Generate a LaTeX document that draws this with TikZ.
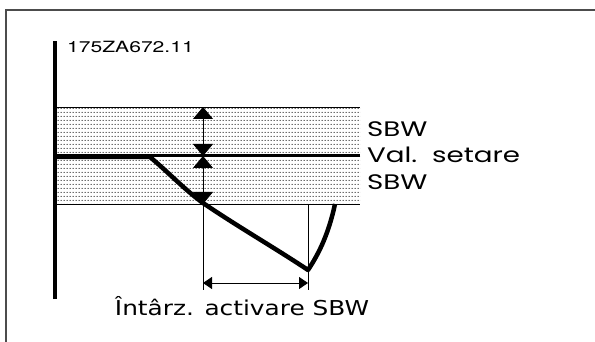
\documentclass[tikz,border=0pt]{standalone}
\usepackage{fontspec}
\setmainfont[FakeStretch=1.21]{DejaVu Sans}
\newfontfamily\geo[FakeStretch=1.32]{Poppins}
\newfontfamily\codefont[FakeStretch=1.36]{TeX Gyre Heros}
\usetikzlibrary{arrows.meta,patterns.meta,positioning}
\tikzset{
  bigtip/.tip={Triangle[length=12pt,width=20pt]},
  smalltip/.tip={Triangle[length=9pt,width=12pt]},
  frame/.style={draw=black!70,line width=1.2pt},
  thinline/.style={draw,line width=0.8pt},
  response/.style={draw,line width=4.5pt,line join=round},
  sbwlabel/.style={font=\geo\fontsize{21}{21}\selectfont,anchor=base west,inner sep=0pt},
  codelabel/.style={font=\codefont\fontsize{15.5}{15.5}\selectfont,anchor=base west,inner sep=0pt},
}
\pgfdeclarepattern{name=rowdots,type=uncolored,bottom left={\pgfpoint{0pt}{0pt}},
  top right={\pgfpoint{2.6pt}{4pt}},tile size={\pgfpoint{2.6pt}{4pt}},
  code={\pgfpathcircle{\pgfpoint{1.3pt}{2pt}}{0.7pt}\pgfusepath{fill}}}
\begin{document}
\begin{tikzpicture}[x=1pt,y=-1pt]
        \useasboundingbox (0,0) rectangle (595,342);
        % frame
        \coordinate (fl) at (6,342);
        \coordinate (ft) at (6,10);
        \coordinate (fr) at (595,10);
        \path[frame](fl)--(ft)--(fr);
        % band
        \coordinate (bl) at (55,107);
        \coordinate (br) at (360,204);
        \path[pattern={rowdots},pattern color=black](bl)rectangle(br);
        \path[thinline](55,107)--(360,107);
        \path[thinline](55,204)--(360,204);
        % set value
        \coordinate (sl) at (55,156);
        \coordinate (sr) at (360,156);
        \path[draw,line width=3pt](sl)--(sr);
        % axis
        \coordinate (a0) at (55,299);
        \coordinate (a1) at (55,41);
        \path[draw,line width=4pt](a0)--(a1);
        \node[codelabel] (code) at (67,53) {175ZA672.11};
        % labels
        \node[sbwlabel] (sbw1) at (367,137) {SBW};
        \node[sbwlabel] (setp) at (367,163) {Val.\ \ setare};
        \node[sbwlabel] (sbw2) at (367,190) {SBW};
        % response
        \coordinate (r0) at (57,157);
        \coordinate (r1) at (150,157);
        \coordinate (r2) at (203,203);
        \coordinate (r3) at (308,270);
        \coordinate (r4) at (335,204);
        \path[response](r0)--(r1).. controls (168,172) and (185,190) ..(r2)
            .. controls (240,228) and (275,248) ..(r3)
            .. controls (320,252) and (329,232) ..(r4);
        % band width
        \coordinate (t) at (203,107);
        \coordinate (m) at (203,156);
        \coordinate (b) at (203,204);
        \path[draw,line width=0.8pt,{bigtip}-{bigtip}](t)--(m);
        \path[draw,line width=0.8pt,{bigtip}-{bigtip}](m)--(b);
        % delay
        \coordinate (d0) at (203,290);
        \coordinate (d1) at (308,204);
        \coordinate (d2) at (308,290);
        \path[thinline](b)--(d0);
        \path[thinline](d1)--(d2);
        \coordinate (h0) at (203,283);
        \coordinate (h1) at (308,283);
        \coordinate (lbl) at (242,315);
        \path[draw,line width=1pt,{smalltip}-{smalltip}](h0)--(h1);
        \node[font=\fontsize{20.5}{20.5}\selectfont,inner sep=0pt,anchor=base] (delay) at (lbl) {Întârz. activare SBW};
    \end{tikzpicture}
\end{document}
